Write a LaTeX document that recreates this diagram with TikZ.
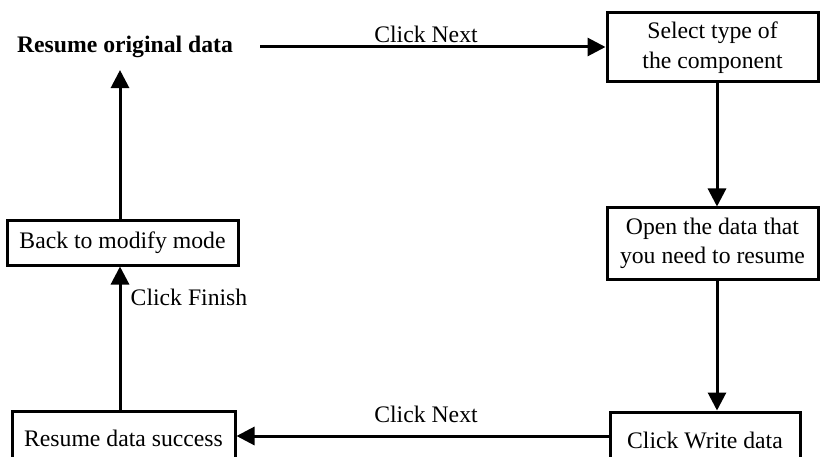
\documentclass[tikz,border=0pt]{standalone}
\usepackage{fontspec}
\setmainfont{Liberation Serif}
\usetikzlibrary{arrows.meta}
\tikzset{
  box/.style={draw, line width=3pt, inner sep=0pt, align=center, font=\fontsize{23.7}{29.5}\selectfont},
  lbl/.style={inner sep=0pt, font=\fontsize{23.7}{28.5}\selectfont},
  arr/.style={line width=3pt, -{Triangle[length=18pt,width=18pt]}}
}
\begin{document}
\begin{tikzpicture}[x=1pt,y=-1pt]
\useasboundingbox (0,0) rectangle (822,457);
\clip (0,0) rectangle (822,457);
\node[lbl, font=\fontsize{23.7}{28.5}\selectfont\bfseries] (orig) at (125,47) {Resume original data};
\node[box, minimum width=211pt, minimum height=69pt] (sel) at (712.5,47.5) {Select type of\\the component};
\node[box, minimum width=211pt, minimum height=71pt] (open) at (712.5,243.5) {Open the data that\\you need to resume};
\node[box, minimum width=190pt, minimum height=56pt] (write) at (705,440) {Click Write data};
\node[box, minimum width=231pt, minimum height=44pt] (back) at (122.5,243) {Back to modify mode};
\node[box, minimum width=223pt, minimum height=54pt] (succ) at (123.5,438) {Resume data success};
\coordinate (vx) at (717,0);
\coordinate (ux) at (120,0);
\coordinate (ha) at (0,47);
\coordinate (hb) at (0,436);
\draw[arr, shorten <=27pt] (orig.east |- ha) -- (sel.west |- ha);
\draw[arr] (vx |- sel.south) -- (vx |- open.north);
\draw[arr] (vx |- open.south) -- (vx |- write.north);
\draw[arr] (write.west |- hb) -- (succ.east |- hb);
\draw[arr] (ux |- succ.north) -- (ux |- back.south);
\draw[arr, shorten >=12pt] (ux |- back.north) -- (ux |- orig.south);
\node[lbl] (n1) at (426,34) {Click Next};
\node[lbl] (n2) at (426,414) {Click Next};
\node[lbl] (n3) at (189,297) {Click Finish};
\end{tikzpicture}
\end{document}
